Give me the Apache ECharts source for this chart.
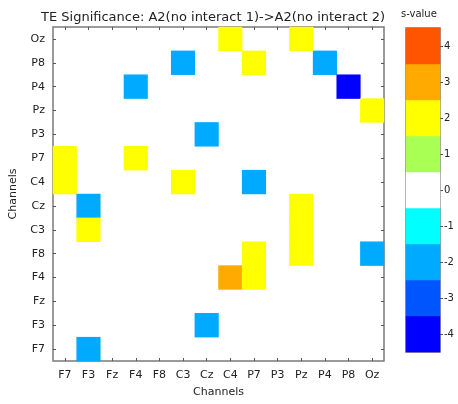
<!DOCTYPE html>
<html>
<head>
<meta charset="utf-8">
<script src="https://cdn.jsdelivr.net/npm/echarts@6/dist/echarts.min.js"></script>
<style>
  html, body { margin: 0; padding: 0; background: #fff; }
  #chart { width: 458px; height: 404px; }
</style>
</head>
<body>
<div id="chart"></div>
<script>
// EEG channels, same order on both axes (first at bottom / left)
const channels = ['F7', 'F3', 'Fz', 'F4', 'F8', 'C3', 'Cz', 'C4', 'P7', 'P3', 'Pz', 'P4', 'P8', 'Oz'];

// Significant transfer-entropy cells: source channel (x), target channel (y), s-value
const sourceCh = ['C4', 'Pz', 'C3', 'P7', 'P4', 'F4', 'P8', 'Oz', 'Cz', 'F7', 'F4', 'F7', 'C3', 'P7', 'F3', 'Pz', 'F3', 'Pz', 'P7', 'Pz', 'Oz', 'C4', 'P7', 'Cz', 'F3'];
const targetCh = ['Oz', 'Oz', 'P8', 'P8', 'P8', 'P4', 'P4', 'Pz', 'P3', 'P7', 'P7', 'C4', 'C4', 'C4', 'Cz', 'Cz', 'C3', 'C3', 'F8', 'F8', 'F8', 'F4', 'F4', 'F3', 'F7'];
const sValues  = [ 2,    2,   -2,    2,   -2,   -2,   -4,    2,   -2,    2,    2,    2,    2,   -2,   -2,    2,    2,    2,    2,    2,   -2,    3,    2,   -2,   -2];

// Colour-bar levels and their colours
const levels = [-4, -3, -2, -1, 0, 1, 2, 3, 4];
const levelColors = ['#0000FF', '#0055FF', '#00AAFF', '#00FFFF', '#FFFFFF', '#AAFF55', '#FFFF00', '#FFAA00', '#FF5500'];

const cells = sourceCh.map((s, i) => [channels.indexOf(s), channels.indexOf(targetCh[i]), sValues[i]]);
const barCells = levels.map((v, i) => [0, i, v]);

const txt = '#222';
const frame = '#7a7a7a';
const font = '"DejaVu Sans", Verdana, sans-serif';

const chart = echarts.init(document.getElementById('chart'), null, { renderer: 'canvas' });

const catAxis = (extra) => Object.assign({
  type: 'category',
  data: channels,
  axisLine: { show: false },
  axisTick: { show: true, inside: true, length: 3, alignWithLabel: true, lineStyle: { color: '#555' } },
  splitLine: { show: false },
  axisLabel: { show: false }
}, extra);

chart.setOption({
  animation: false,
  backgroundColor: '#fff',
  title: {
    text: 'TE Significance: A2(no interact 1)->A2(no interact 2)',
    left: 36, top: 6,
    textStyle: { fontFamily: font, fontSize: 13, fontWeight: 'normal', color: txt }
  },
  graphic: [{
    type: 'text', left: 401, top: 9,
    style: { text: 's-value', font: '10px ' + font, fill: txt }
  }],
  grid: [
    { left: 50, top: 27, width: 334, height: 334, show: true, borderColor: frame, borderWidth: 1.5, backgroundColor: '#fff' },
    { left: 406, top: 28, width: 34, height: 324, show: true, borderColor: frame, borderWidth: 1.5 }
  ],
  xAxis: [
    catAxis({ gridIndex: 0, position: 'bottom',
      axisLabel: { show: true, color: txt, fontFamily: font, fontSize: 11, margin: 9 },
      name: 'Channels', nameLocation: 'middle', nameGap: 26,
      nameTextStyle: { color: txt, fontFamily: font, fontSize: 11 } }),
    catAxis({ gridIndex: 0, position: 'top' }),
    { type: 'category', gridIndex: 1, data: ['s'], show: false }
  ],
  yAxis: [
    catAxis({ gridIndex: 0, position: 'left',
      axisLabel: { show: true, color: txt, fontFamily: font, fontSize: 11, margin: 8 },
      name: 'Channels', nameLocation: 'middle', nameGap: 34,
      nameTextStyle: { color: txt, fontFamily: font, fontSize: 11 } }),
    catAxis({ gridIndex: 0, position: 'right' }),
    {
      type: 'category', gridIndex: 1, position: 'right',
      data: levels.map(String),
      axisLine: { show: false },
      axisTick: { show: true, length: 3, alignWithLabel: true, lineStyle: { color: '#555' } },
      axisLabel: { color: txt, fontFamily: font, fontSize: 10, margin: 4 },
      splitLine: { show: false }
    }
  ],
  visualMap: {
    type: 'piecewise', show: false, dimension: 2, seriesIndex: [0, 1],
    pieces: levels.map((v, i) => ({ min: v - 0.5, max: v + 0.5, color: levelColors[i] }))
  },
  series: [
    { type: 'heatmap', xAxisIndex: 0, yAxisIndex: 0, data: cells,
      itemStyle: { borderWidth: 0 }, emphasis: { disabled: true } },
    { type: 'heatmap', xAxisIndex: 2, yAxisIndex: 2, data: barCells,
      itemStyle: { borderWidth: 0 }, emphasis: { disabled: true } }
  ]
});
</script>
</body>
</html>
